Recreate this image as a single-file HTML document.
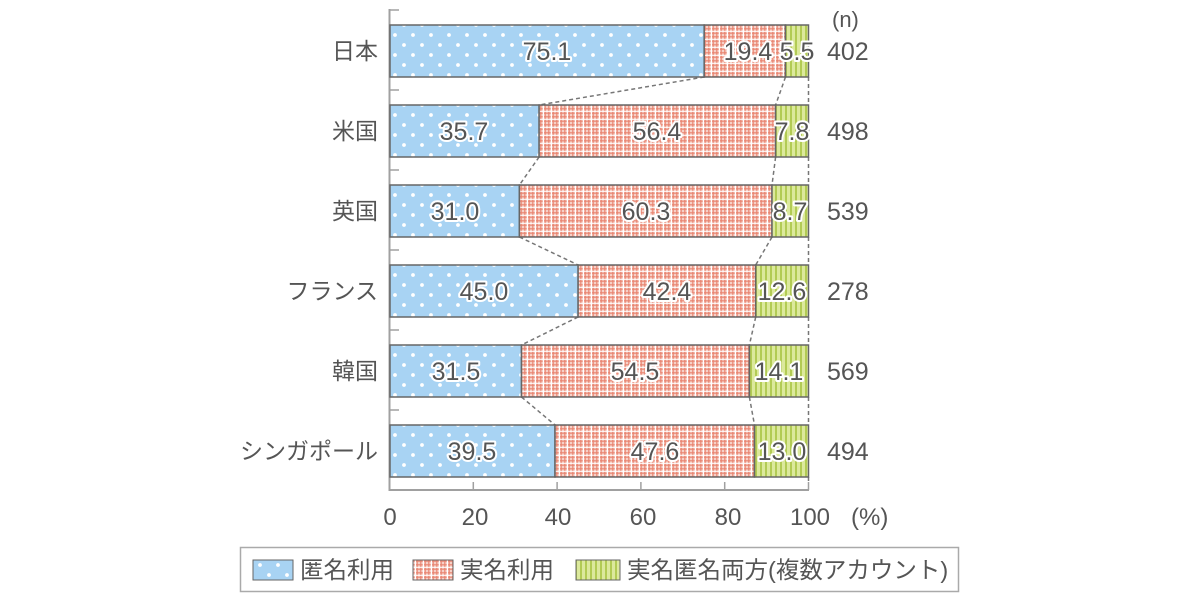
<!DOCTYPE html>
<html><head><meta charset="utf-8"><style>
html,body{margin:0;padding:0;background:#fff;}
svg{display:block;}
text{font-family:"Liberation Sans","Noto Sans CJK JP",sans-serif;fill:#555;}
.v{font-size:25px;text-anchor:middle;stroke:#fff;stroke-width:4px;paint-order:stroke;stroke-linejoin:round;}
.c{font-size:23px;text-anchor:end;}
.n{font-size:25px;}
.t{font-size:24px;text-anchor:middle;}
.l{font-size:23.5px;}
</style></head><body>
<svg width="1200" height="600" viewBox="0 0 1200 600" xmlns="http://www.w3.org/2000/svg">
<defs>
<pattern id="dots" width="18" height="20" patternUnits="userSpaceOnUse" x="390" y="30">
<rect width="18" height="20" fill="#a8d3f3"/>
<circle cx="5" cy="5" r="1.9" fill="#fff"/>
<circle cx="14" cy="15" r="1.9" fill="#fff"/>
</pattern>
<pattern id="check" width="8" height="8" patternUnits="userSpaceOnUse">
<rect width="8" height="8" fill="#f6d0c6"/>
<rect x="0" y="0.5" width="8" height="1.5" fill="#e8826f" opacity="0.75"/>
<rect x="0" y="4" width="8" height="1.5" fill="#e8826f" opacity="0.75"/>
<rect x="0.5" y="0" width="1.5" height="8" fill="#e8826f" opacity="0.75"/>
<rect x="4" y="0" width="1.5" height="8" fill="#e8826f" opacity="0.75"/>
<rect x="6.8" y="0" width="1.2" height="8" fill="#fff"/>
<rect x="0" y="6.8" width="8" height="1.2" fill="#fff" opacity="0.8"/>
</pattern>
<pattern id="stripe" width="5" height="10" patternUnits="userSpaceOnUse">
<rect width="5" height="10" fill="#dce99c"/>
<rect x="0" width="2" height="10" fill="#b2cb54"/>
</pattern>
</defs>

<!-- left axis -->
<line x1="389.5" y1="9" x2="389.5" y2="491" stroke="#a0a0a0" stroke-width="2"/>
<g stroke="#a0a0a0" stroke-width="1.5">
<line x1="389" y1="10" x2="399" y2="10"/>
<line x1="389" y1="90" x2="399" y2="90"/>
<line x1="389" y1="170" x2="399" y2="170"/>
<line x1="389" y1="250" x2="399" y2="250"/>
<line x1="389" y1="330" x2="399" y2="330"/>
<line x1="389" y1="410" x2="399" y2="410"/>
</g>
<!-- bottom axis -->
<line x1="389" y1="490" x2="809" y2="490" stroke="#a0a0a0" stroke-width="2"/>
<g stroke="#a0a0a0" stroke-width="1.5">
<line x1="473.3" y1="482" x2="473.3" y2="490"/>
<line x1="557.1" y1="482" x2="557.1" y2="490"/>
<line x1="640.9" y1="482" x2="640.9" y2="490"/>
<line x1="724.7" y1="482" x2="724.7" y2="490"/>
<line x1="808.5" y1="482" x2="808.5" y2="490"/>
</g>

<!-- connectors -->
<g stroke="#777" stroke-width="1.5" stroke-dasharray="4,3" fill="none">
<line x1="704.2" y1="77" x2="539.1" y2="105"/>
<line x1="785.5" y1="77" x2="775.6" y2="105"/>
<line x1="539.1" y1="157" x2="519.4" y2="185"/>
<line x1="775.6" y1="157" x2="772.0" y2="185"/>
<line x1="519.4" y1="237" x2="578.1" y2="265"/>
<line x1="772.0" y1="237" x2="755.7" y2="265"/>
<line x1="578.1" y1="317" x2="521.5" y2="345"/>
<line x1="755.7" y1="317" x2="749.4" y2="345"/>
<line x1="521.5" y1="397" x2="555.0" y2="425"/>
<line x1="749.4" y1="397" x2="754.5" y2="425"/>
<line x1="808.5" y1="77" x2="808.5" y2="105"/>
<line x1="808.5" y1="157" x2="808.5" y2="185"/>
<line x1="808.5" y1="237" x2="808.5" y2="265"/>
<line x1="808.5" y1="317" x2="808.5" y2="345"/>
<line x1="808.5" y1="397" x2="808.5" y2="425"/>
<line x1="808.5" y1="477" x2="808.5" y2="482"/>
</g>

<!-- bars -->
<g stroke="#666" stroke-width="1.5">
<rect x="390" y="25" width="314.2" height="52" fill="url(#dots)"/>
<rect x="704.2" y="25" width="81.3" height="52" fill="url(#check)"/>
<rect x="785.5" y="25" width="23" height="52" fill="url(#stripe)"/>
<rect x="390" y="105" width="149.1" height="52" fill="url(#dots)"/>
<rect x="539.1" y="105" width="236.5" height="52" fill="url(#check)"/>
<rect x="775.6" y="105" width="32.9" height="52" fill="url(#stripe)"/>
<rect x="390" y="185" width="129.4" height="52" fill="url(#dots)"/>
<rect x="519.4" y="185" width="252.6" height="52" fill="url(#check)"/>
<rect x="772.0" y="185" width="36.5" height="52" fill="url(#stripe)"/>
<rect x="390" y="265" width="188.1" height="52" fill="url(#dots)"/>
<rect x="578.1" y="265" width="177.6" height="52" fill="url(#check)"/>
<rect x="755.7" y="265" width="52.8" height="52" fill="url(#stripe)"/>
<rect x="390" y="345" width="131.5" height="52" fill="url(#dots)"/>
<rect x="521.5" y="345" width="227.9" height="52" fill="url(#check)"/>
<rect x="749.4" y="345" width="59.1" height="52" fill="url(#stripe)"/>
<rect x="390" y="425" width="165.0" height="52" fill="url(#dots)"/>
<rect x="555.0" y="425" width="199.5" height="52" fill="url(#check)"/>
<rect x="754.5" y="425" width="54.0" height="52" fill="url(#stripe)"/>
</g>

<!-- value labels -->
<text class="v" x="547" y="60">75.1</text>
<text class="v" x="748" y="60">19.4</text>
<text class="v" x="797" y="60">5.5</text>

<text class="v" x="464" y="140">35.7</text>
<text class="v" x="657" y="140">56.4</text>
<text class="v" x="792" y="140">7.8</text>

<text class="v" x="455" y="220">31.0</text>
<text class="v" x="646" y="220">60.3</text>
<text class="v" x="790" y="220">8.7</text>

<text class="v" x="484" y="300">45.0</text>
<text class="v" x="667" y="300">42.4</text>
<text class="v" x="782" y="300">12.6</text>

<text class="v" x="456" y="380">31.5</text>
<text class="v" x="635" y="380">54.5</text>
<text class="v" x="779" y="380">14.1</text>

<text class="v" x="472" y="460">39.5</text>
<text class="v" x="655" y="460">47.6</text>
<text class="v" x="782" y="460">13.0</text>

<!-- country labels -->
<text class="c" x="378" y="59">日本</text>
<text class="c" x="378" y="139">米国</text>
<text class="c" x="378" y="219">英国</text>
<text class="c" x="378" y="299">フランス</text>
<text class="c" x="378" y="379">韓国</text>
<text class="c" x="378" y="459">シンガポール</text>

<!-- n -->
<text x="832" y="27" style="font-size:22px">(n)</text>
<text class="n" x="827" y="60">402</text>
<text class="n" x="827" y="140">498</text>
<text class="n" x="827" y="220">539</text>
<text class="n" x="827" y="300">278</text>
<text class="n" x="827" y="380">569</text>
<text class="n" x="827" y="460">494</text>

<!-- tick labels -->
<text class="t" x="390" y="525">0</text>
<text class="t" x="475" y="525">20</text>
<text class="t" x="558" y="525">40</text>
<text class="t" x="643" y="525">60</text>
<text class="t" x="728" y="525">80</text>
<text class="t" x="810" y="525">100</text>
<text x="851" y="525" style="font-size:24px">(%)</text>

<!-- legend -->
<rect x="240.5" y="547.5" width="718" height="44" fill="#fff" stroke="#aaa" stroke-width="1.5"/>
<rect x="253" y="560" width="40" height="20" fill="url(#dots)" stroke="#666" stroke-width="1"/>
<text class="l" x="300" y="578">匿名利用</text>
<rect x="413" y="560" width="40" height="20" fill="url(#check)" stroke="#666" stroke-width="1"/>
<text class="l" x="460" y="578">実名利用</text>
<rect x="576" y="560" width="44" height="20" fill="url(#stripe)" stroke="#666" stroke-width="1"/>
<text class="l" x="627" y="578">実名匿名両方(複数アカウント)</text>
</svg>
</body></html>
